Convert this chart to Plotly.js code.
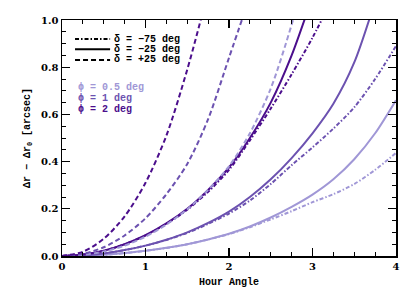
<!DOCTYPE html>
<html>
<head>
<meta charset="utf-8">
<script src="https://cdn.plot.ly/plotly-3.0.1.min.js"></script>
<style>html,body{margin:0;padding:0;background:#fff;}#chart{width:415px;height:297px;}</style>
</head>
<body>
<div id="chart"></div>
<script>
// Hour angle samples
const hourAngle = [0, 0.25, 0.5, 0.75, 1, 1.25, 1.5, 1.75, 2, 2.25, 2.5, 2.75, 3, 3.25, 3.5, 3.75, 4];

// phi = 0.5 deg
const phi05_dm75 = [0, 0.001, 0.005, 0.012, 0.022, 0.034, 0.05, 0.07, 0.093, 0.122, 0.155, 0.19, 0.228, 0.262, 0.305, 0.365, 0.437];
const phi05_dm25 = [0, 0.0015, 0.0055, 0.0125, 0.022, 0.035, 0.05, 0.07, 0.094, 0.125, 0.163, 0.208, 0.26, 0.325, 0.41, 0.52, 0.66];
const phi05_dp25 = [0, 0.0045, 0.019, 0.044, 0.082, 0.133, 0.198, 0.28, 0.38, 0.52, 0.71, 0.98, 1.3];
// phi = 1 deg
const phi1_dm75 = [0, 0.003, 0.011, 0.025, 0.044, 0.068, 0.098, 0.136, 0.18, 0.235, 0.305, 0.385, 0.46, 0.54, 0.63, 0.75, 0.89];
const phi1_dm25 = [0, 0.003, 0.011, 0.025, 0.044, 0.069, 0.1, 0.14, 0.188, 0.25, 0.325, 0.415, 0.52, 0.645, 0.82, 1.08];
const phi1_dp25 = [0, 0.009, 0.037, 0.087, 0.16, 0.262, 0.39, 0.58, 0.84, 1.1];
// phi = 2 deg
const phi2_dm75 = [0, 0.006, 0.022, 0.05, 0.087, 0.136, 0.196, 0.272, 0.365, 0.49, 0.625, 0.77, 0.925, 1.1];
const phi2_dm25 = [0, 0.006, 0.022, 0.05, 0.088, 0.138, 0.2, 0.28, 0.375, 0.5, 0.65, 0.85, 1.1];
const phi2_dp25 = [0, 0.018, 0.073, 0.168, 0.31, 0.51, 0.79, 1.12];

const deltaLabels = ['\u03B4 = \u221275 deg', '\u03B4 = \u221225 deg', '\u03B4 = +25 deg'];
const phiLabels = ['\u03D5 = 0.5 deg', '\u03D5 = 1 deg', '\u03D5 = 2 deg'];

const phiColors = ['#a097d6', '#6c52b0', '#4b0e8c'];
const deltaDash = ['4px,2px,1.5px,2px', 'solid', '5px,3px'];

const series = [
  [phi05_dm75, phi1_dm75, phi2_dm75],
  [phi05_dm25, phi1_dm25, phi2_dm25],
  [phi05_dp25, phi1_dp25, phi2_dp25]
];

const traces = [];
series.forEach((group, di) => {
  group.forEach((vals, pi) => {
    traces.push({
      type: 'scatter', mode: 'lines',
      x: hourAngle.slice(0, vals.length), y: vals,
      line: {color: phiColors[pi], width: 2, dash: deltaDash[di], shape: 'spline', smoothing: 0.8},
      showlegend: false, hoverinfo: 'skip'
    });
  });
});

const mono = '"Liberation Mono", "DejaVu Sans Mono", monospace';
const serif = '"DejaVu Serif", "Liberation Serif", serif';

const annotations = [];
const shapes = [];
const rowY = [0.919, 0.876, 0.831];
deltaLabels.forEach((t, i) => {
  shapes.push({type: 'line', xref: 'paper', yref: 'paper', x0: 0.039, x1: 0.144, y0: rowY[i], y1: rowY[i],
    line: {color: 'black', width: 2, dash: deltaDash[i]}});
  annotations.push({xref: 'paper', yref: 'paper', x: 0.153, y: rowY[i], xanchor: 'left', yanchor: 'middle',
    text: t, showarrow: false, borderpad: 0, font: {family: mono, size: 10, color: 'black', weight: 'bold'}});
});
const phiY = [0.713, 0.668, 0.622];
phiLabels.forEach((t, i) => {
  annotations.push({xref: 'paper', yref: 'paper', x: 0.045, y: phiY[i], xanchor: 'left', yanchor: 'middle',
    text: t, showarrow: false, borderpad: 0, font: {family: mono, size: 10, color: phiColors[i], weight: 'bold'}});
});

const layout = {
  width: 415, height: 297,
  margin: {l: 62, r: 19, t: 20, b: 41},
  paper_bgcolor: 'white', plot_bgcolor: 'white',
  showlegend: false,
  xaxis: {
    range: [0, 4], dtick: 1, tick0: 0, tickformat: 'd',
    showgrid: false, zeroline: false,
    showline: true, linecolor: 'black', linewidth: 1.5, mirror: 'ticks',
    ticks: 'inside', ticklen: 8, tickwidth: 1.2, tickcolor: 'black',
    minor: {dtick: 0.25, ticks: 'inside', ticklen: 4, tickwidth: 1, tickcolor: 'black'},
    tickfont: {family: serif, size: 10, color: 'black', weight: 'bold'},
    title: {text: 'Hour Angle', font: {family: mono, size: 10, color: 'black', weight: 'bold'}, standoff: 7}
  },
  yaxis: {
    range: [0, 1], dtick: 0.2, tick0: 0, tickformat: '.1f',
    showgrid: false, zeroline: false,
    showline: true, linecolor: 'black', linewidth: 1.5, mirror: 'ticks',
    ticks: 'inside', ticklen: 8, tickwidth: 1.2, tickcolor: 'black',
    minor: {dtick: 0.05, ticks: 'inside', ticklen: 4, tickwidth: 1, tickcolor: 'black'},
    tickfont: {family: serif, size: 10, color: 'black', weight: 'bold'},
    title: {text: '\u0394r \u2212 \u0394r<sub>0</sub> [arcsec]', font: {family: mono, size: 10, color: 'black', weight: 'bold'}, standoff: 8}
  },
  annotations: annotations,
  shapes: shapes
};

Plotly.newPlot('chart', traces, layout, {staticPlot: true, displayModeBar: false});
</script>
</body>
</html>
